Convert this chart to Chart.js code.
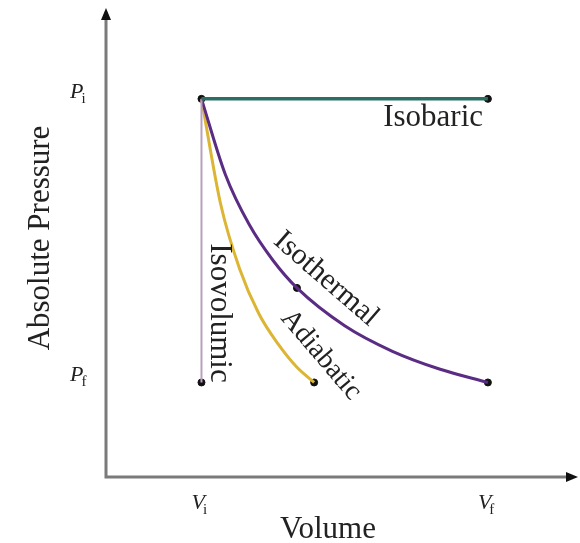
<!DOCTYPE html>
<html>
<head>
<meta charset="utf-8">
<script src="https://cdn.jsdelivr.net/npm/chart.js@4/dist/chart.umd.min.js"></script>
<style>
  html, body { margin: 0; padding: 0; background: #fff; }
  #wrap { width: 580px; height: 543px; position: relative; }
</style>
</head>
<body>
<div id="wrap"><canvas id="pv"></canvas></div>
<script>
// ---- data (V and P in units of Vi, Pf) ----
const isobaricV = [1, 4];
const isobaricP = [4, 4];
const isovolumicV = [1, 1];
const isovolumicP = [4, 1];
const isothermalV = [1, 1.25, 1.5, 1.75, 2, 2.5, 3, 3.5, 4];
const isothermalP = [4, 3.2, 2.67, 2.29, 2, 1.6, 1.33, 1.14, 1];
const adiabaticV = [1, 1.2, 1.4, 1.6, 1.8, 2.0, 2.18];
const adiabaticP = [4, 2.89, 2.2, 1.73, 1.41, 1.16, 1];
const stateV = [1, 4, 1, 4, 2, 2.18];
const stateP = [4, 4, 1, 1, 2, 1];
const volumeTicks = [1, 4];
const volumeTickLabels = ['i', 'f'];
const pressureTicks = [4, 1];
const pressureTickLabels = ['i', 'f'];

function pts(xs, ys) {
    return xs.map((x, i) => ({ x: x, y: ys[i] }));
}

const SERIF = '"Liberation Serif", "DejaVu Serif", serif';

// draws arrows, tick labels and curve names
const pvDecor = {
    id: 'pvDecor',
    afterDraw(chart) {
        const ctx = chart.ctx;
        const xs = chart.scales.x;
        const ys = chart.scales.y;
        const ox = xs.getPixelForValue(0);
        const oy = ys.getPixelForValue(0);
        ctx.save();

        // axes
        ctx.strokeStyle = '#7a7a7a';
        ctx.lineWidth = 3;
        ctx.beginPath();
        ctx.moveTo(ox, 18);
        ctx.lineTo(ox, oy);
        ctx.lineTo(568, oy);
        ctx.stroke();
        ctx.fillStyle = '#111';
        ctx.beginPath();
        ctx.moveTo(ox, 8);
        ctx.lineTo(ox - 5, 20);
        ctx.lineTo(ox + 5, 20);
        ctx.closePath();
        ctx.fill();
        ctx.beginPath();
        ctx.moveTo(578, oy);
        ctx.lineTo(566, oy - 5);
        ctx.lineTo(566, oy + 5);
        ctx.closePath();
        ctx.fill();

        ctx.fillStyle = '#222';
        ctx.textBaseline = 'middle';

        // tick labels with subscripts
        function sym(letter, sub, x, y) {
            ctx.font = 'italic 22px ' + SERIF;
            ctx.textAlign = 'left';
            const w = ctx.measureText(letter).width;
            ctx.fillText(letter, x, y);
            ctx.font = '15px ' + SERIF;
            ctx.fillText(sub, x + w - 2, y + 7);
        }
        volumeTicks.forEach((v, i) => {
            sym('V', volumeTickLabels[i], xs.getPixelForValue(v) - 10, 503);
        });
        pressureTicks.forEach((p, i) => {
            sym('P', pressureTickLabels[i], 70, ys.getPixelForValue(p) - 7);
        });

        // axis titles
        ctx.font = '31px ' + SERIF;
        ctx.textAlign = 'center';
        ctx.fillText('Volume', 328, 530);
        ctx.save();
        ctx.translate(41, 238);
        ctx.rotate(-Math.PI / 2);
        ctx.fillText('Absolute Pressure', 0, 0);
        ctx.restore();

        // curve names
        ctx.textAlign = 'right';
        ctx.fillText('Isobaric', 483, 118);
        function rotText(t, x, y, deg, size) {
            ctx.save();
            ctx.translate(x, y);
            ctx.rotate(deg * Math.PI / 180);
            ctx.font = size + 'px ' + SERIF;
            ctx.textAlign = 'center';
            ctx.fillText(t, 0, 0);
            ctx.restore();
        }
        rotText('Isovolumic', 219, 313, 90, 31);
        rotText('Isothermal', 326, 279, 41, 30);
        rotText('Adiabatic', 321, 355, 49.5, 28);

        ctx.restore();
    }
};

new Chart(document.getElementById('pv'), {
    type: 'scatter',
    data: {
        datasets: [
            {
                label: 'Isobaric',
                data: pts(isobaricV, isobaricP),
                showLine: true,
                borderColor: '#2b6e64',
                borderWidth: 3.5,
                pointRadius: 0
            },
            {
                label: 'Isovolumic',
                data: pts(isovolumicV, isovolumicP),
                showLine: true,
                borderColor: '#b9a0bd',
                borderWidth: 2,
                pointRadius: 0
            },
            {
                label: 'Isothermal',
                data: pts(isothermalV, isothermalP),
                showLine: true,
                borderColor: '#5b2c84',
                borderWidth: 3,
                cubicInterpolationMode: 'monotone',
                pointRadius: 0
            },
            {
                label: 'Adiabatic',
                data: pts(adiabaticV, adiabaticP),
                showLine: true,
                borderColor: '#dcb534',
                borderWidth: 3,
                cubicInterpolationMode: 'monotone',
                pointRadius: 0
            },
            {
                label: 'States',
                data: pts(stateV, stateP),
                showLine: false,
                backgroundColor: '#111',
                borderColor: '#111',
                pointRadius: 3.5
            }
        ]
    },
    options: {
        responsive: true,
        maintainAspectRatio: false,
        animation: false,
        layout: { padding: { left: 106, right: 10, top: 10, bottom: 66 } },
        plugins: {
            legend: { display: false },
            tooltip: { enabled: false }
        },
        scales: {
            x: { type: 'linear', min: 0, max: 4.86, display: false },
            y: { type: 'linear', min: 0, max: 4.94, display: false }
        }
    },
    plugins: [pvDecor]
});
</script>
</body>
</html>
